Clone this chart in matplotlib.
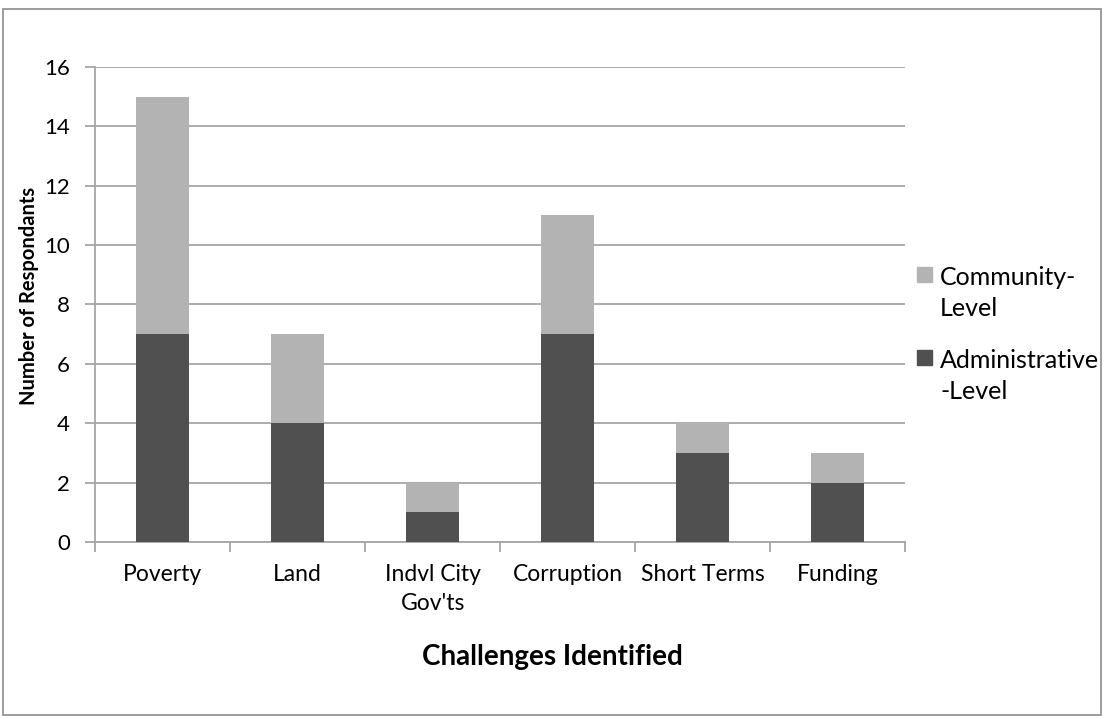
import matplotlib.pyplot as plt
from matplotlib.patches import Rectangle
import numpy as np

plt.rcParams['font.family'] = ['Lato', 'DejaVu Sans']

categories = ['Poverty', 'Land', 'Indvl City\nGov\'ts', 'Corruption', 'Short Terms', 'Funding']
admin = [7, 4, 1, 7, 3, 2]
community = [8, 3, 1, 4, 1, 1]
series_names = ['Community-\nLevel', 'Administrative\n-Level']

dark = '#505050'
light = '#b3b3b3'
gridc = '#a6a6a6'

W, H = 1104, 719
fig = plt.figure(figsize=(11.04, 7.19), dpi=100)
fig.patches.append(Rectangle((0.003, 0.005), 0.994, 0.983, transform=fig.transFigure,
                             fill=False, edgecolor='#8c8c8c', linewidth=1.2))
ax = fig.add_axes([0.086, 0.246, 0.734, 0.661])

x = np.arange(len(categories))
ax.bar(x, admin, width=0.39, color=dark, zorder=3)
ax.bar(x, community, width=0.39, bottom=admin, color=light, zorder=3)

ax.set_xlim(-0.5, len(categories) - 0.5)
ax.set_ylim(0, 16)
ax.set_yticks(range(0, 17, 2))
ax.yaxis.grid(True, color=gridc, linewidth=1.3, zorder=0)
ax.set_axisbelow(True)

for s in ['top', 'right']:
    ax.spines[s].set_visible(False)
for s in ['left', 'bottom']:
    ax.spines[s].set_color(gridc)
    ax.spines[s].set_linewidth(1.3)

ax.set_xticks(x)
ax.set_xticklabels(categories, fontsize=16.5, linespacing=1.45)
ax.tick_params(axis='x', length=0, pad=16)
ax.set_xticks(np.arange(-0.5, len(categories), 1), minor=True)
ax.tick_params(axis='x', which='minor', length=7, color=gridc, width=1.3)
ax.tick_params(axis='y', labelsize=16, length=7, color=gridc, width=1.3, pad=11)

# axis titles (centred on the whole chart area like Excel does)
fig.text(0.5, 1 - 657 / H, 'Challenges Identified', fontsize=20, fontweight='bold',
         ha='center', va='center')
fig.text(29 / W, 1 - 296 / H, 'Number of Respondants', fontsize=14.5, fontweight='bold',
         ha='center', va='center', rotation=90)

# legend, squares aligned with first text line
for name, col, ytop in zip(series_names, [light, dark], [267, 350]):
    fig.patches.append(Rectangle((917 / W, 1 - (ytop + 15) / H), 15 / W, 15 / H,
                                 transform=fig.transFigure, color=col))
    for i, line in enumerate(name.split('\n')):
        fig.text(940 / W, 1 - (ytop + 11 + 30 * i) / H, line, fontsize=18,
                 ha='left', va='center')

fig.savefig('out.png', dpi=100)
